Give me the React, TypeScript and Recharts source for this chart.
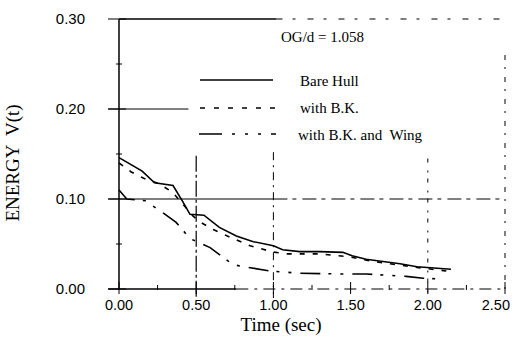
import React from "react";
import { LineChart, Line, XAxis, YAxis, ReferenceLine } from "recharts";

// Time axis ticks (major labelled, minor unlabelled)
const X_MAJOR = [0, 0.5, 1.0, 1.5, 2.0, 2.5];
const X_TICKS = [0, 0.25, 0.5, 0.75, 1.0, 1.25, 1.5, 1.75, 2.0, 2.25, 2.5];
const Y_MAJOR = [0, 0.1, 0.2, 0.3];
const Y_TICKS = [0, 0.05, 0.1, 0.15, 0.2, 0.25, 0.3];

// Bare hull energy decay
const BARE_T = [0, 0.15, 0.23, 0.35, 0.41, 0.46, 0.55, 0.65, 0.76, 0.87, 1.0, 1.06, 1.17, 1.3, 1.45, 1.51, 1.6, 1.82, 1.93, 2.15];
const BARE_V = [0.146, 0.131, 0.118, 0.115, 0.098, 0.083, 0.082, 0.0685, 0.059, 0.0526, 0.048, 0.0437, 0.0415, 0.0415, 0.0407, 0.037, 0.033, 0.028, 0.0248, 0.022];

// With bilge keels
const BK_T = [0, 0.08, 0.16, 0.26, 0.35, 0.42, 0.48, 0.53, 0.61, 0.74, 0.85, 1.0, 1.09, 1.3, 1.48, 1.67, 1.93, 2.12];
const BK_V = [0.14, 0.13, 0.123, 0.117, 0.107, 0.093, 0.081, 0.074, 0.066, 0.056, 0.048, 0.041, 0.039, 0.039, 0.036, 0.03, 0.024, 0.02];

// With bilge keels and wing
const WING_T = [0, 0.05, 0.17, 0.29, 0.37, 0.46, 0.59, 0.74, 0.8, 0.98, 1.17, 1.43, 1.6, 1.86, 1.97, 2.09];
const WING_V = [0.11, 0.1, 0.098, 0.084, 0.074, 0.056, 0.046, 0.027, 0.025, 0.02, 0.0175, 0.0167, 0.0167, 0.014, 0.012, 0.011];

const zip = (t: number[], v: number[]) => t.map((x, i) => ({ t: x, v: v[i] }));
const bare = zip(BARE_T, BARE_V);
const bk = zip(BK_T, BK_V);
const wing = zip(WING_T, WING_V);

const SANS = "'Liberation Sans', Arial, sans-serif";
const SERIF = "'Liberation Serif', 'Times New Roman', serif";

const W = 514;
const H = 344;
const M = { top: 19, right: 9, bottom: 0, left: 0 };
const Y_AXIS_W = 119;
const X_AXIS_H = 55;

const DASH_BK = "5 8";
const DASH_WING = "20 8 3 9 3 9";

const XTick = (props: any) => {
  const { x, y, payload } = props;
  const v = payload.value as number;
  const major = X_MAJOR.some((m) => Math.abs(m - v) < 1e-9);
  const last = Math.abs(v - 2.5) < 1e-9;
  const ay = y - 12;
  return (
    <g>
      <line x1={x} x2={x} y1={ay - (major ? 6 : 3)} y2={ay + (major ? 6 : 2)} stroke="#000" strokeWidth={1} />
      {major && (
        <text
          x={last ? x + 5 : x}
          y={y}
          dy="0.71em"
          textAnchor={last ? "end" : "middle"}
          fontSize={14.5}
          fontFamily={SANS}
          fill="#000"
        >
          {v.toFixed(2)}
        </text>
      )}
    </g>
  );
};

const YTick = (props: any) => {
  const { x, y, payload } = props;
  const v = payload.value as number;
  const major = Y_MAJOR.some((m) => Math.abs(m - v) < 1e-9);
  const ax = x + 34;
  return (
    <g>
      <line x1={ax - (major ? 11 : 3)} x2={ax + (major ? 7 : 3)} y1={y} y2={y} stroke="#000" strokeWidth={1} />
      {major && (
        <text x={x} y={y} dy="0.355em" textAnchor="end" fontSize={15} fontFamily={SANS} fill="#000">
          {v.toFixed(2)}
        </text>
      )}
    </g>
  );
};

const seg = (x1: number, y1: number, x2: number, y2: number) => [
  { x: x1, y: y1 },
  { x: x2, y: y2 },
];

export default function App() {
  return (
    <div style={{ position: "absolute", left: 0, top: 0, width: W, height: H, background: "#fff" }}>
      <LineChart width={W} height={H} margin={M}>
        <XAxis
          type="number"
          dataKey="t"
          domain={[0, 2.5]}
          ticks={X_TICKS}
          interval={0}
          height={X_AXIS_H}
          axisLine={false}
          tickLine={false}
          tickSize={0}
          tickMargin={11}
          tick={<XTick />}
          allowDuplicatedCategory={false}
        />
        <YAxis
          type="number"
          dataKey="v"
          domain={[0, 0.3]}
          ticks={Y_TICKS}
          interval={0}
          width={Y_AXIS_W}
          axisLine={{ stroke: "#000", strokeWidth: 1.5 }}
          tickLine={false}
          tickSize={0}
          tickMargin={34}
          tick={<YTick />}
        />

        {/* frame and grid */}
        <ReferenceLine ifOverflow="visible" segment={seg(0, 0.3, 1.02, 0.3)} stroke="#000" strokeWidth={1.3} />
        <ReferenceLine ifOverflow="visible" segment={seg(1.02, 0.3, 2.5, 0.3)} stroke="#000" strokeWidth={1.2} strokeDasharray="6 10 3 12" />
        <ReferenceLine ifOverflow="visible" segment={seg(-0.07, 0.2, 0.45, 0.2)} stroke="#000" strokeWidth={1} />
        <ReferenceLine ifOverflow="visible" segment={seg(-0.07, 0.1, 1.0, 0.1)} stroke="#000" strokeWidth={1.2} />
        <ReferenceLine ifOverflow="visible" segment={seg(1.0, 0.1, 2.5, 0.1)} stroke="#000" strokeWidth={1} strokeDasharray="14 5 4 6" />
        <ReferenceLine ifOverflow="visible" segment={seg(-0.07, 0, 0.76, 0)} stroke="#000" strokeWidth={1.4} />
        <ReferenceLine ifOverflow="visible" segment={seg(0.76, 0, 2.5, 0)} stroke="#000" strokeWidth={1.1} strokeDasharray="12 6 3 6" />
        <ReferenceLine ifOverflow="visible" segment={seg(0.5, 0.148, 0.5, -0.01)} stroke="#000" strokeWidth={1.2} strokeDasharray="16 3 3 3" />
        <ReferenceLine ifOverflow="visible" segment={seg(1.0, 0.152, 1.0, -0.01)} stroke="#000" strokeWidth={1} strokeDasharray="8 5 2 5" />
        <ReferenceLine ifOverflow="visible" segment={seg(2.0, 0.145, 2.0, -0.01)} stroke="#000" strokeWidth={1} strokeDasharray="4 8 2 6" />
        <ReferenceLine ifOverflow="visible" segment={seg(2.5, 0.26, 2.5, 0)} stroke="#000" strokeWidth={1} strokeDasharray="5 7 2 8" />

        <Line data={bare} dataKey="v" type="linear" stroke="#000" strokeWidth={1.6} dot={false} isAnimationActive={false} />
        <Line data={bk} dataKey="v" type="linear" stroke="#000" strokeWidth={1.6} strokeDasharray={DASH_BK} dot={false} isAnimationActive={false} />
        <Line data={wing} dataKey="v" type="linear" stroke="#000" strokeWidth={1.6} strokeDasharray={DASH_WING} dot={false} isAnimationActive={false} />
      </LineChart>

      <svg width={W} height={H} style={{ position: "absolute", left: 0, top: 0, pointerEvents: "none" }}>
        <text x={281} y={42} fontSize={15} fontFamily={SERIF} fill="#000">OG/d = 1.058</text>

        <line x1={200} x2={273} y1={80} y2={80} stroke="#000" strokeWidth={1.6} />
        <text x={300} y={86} fontSize={15} fontFamily={SERIF} fill="#000">Bare Hull</text>

        <line x1={200} x2={278} y1={108} y2={108} stroke="#000" strokeWidth={1.6} strokeDasharray="5 9" />
        <text x={300} y={113} fontSize={15} fontFamily={SERIF} fill="#000">with B.K.</text>

        <line x1={199} x2={276} y1={134} y2={134} stroke="#000" strokeWidth={1.6} strokeDasharray="23 10 3 10 3 10 3 10" />
        <text x={298} y={140} fontSize={15} fontFamily={SERIF} fill="#000" style={{ whiteSpace: "pre" }}>with B.K. and  Wing</text>

        <text x={281} y={331} textAnchor="middle" fontSize={19} fontFamily={SERIF} fill="#000">Time (sec)</text>
        <text x={19} y={163} textAnchor="middle" fontSize={19} fontFamily={SERIF} fill="#000" transform="rotate(-90, 19, 163)" style={{ whiteSpace: "pre" }}>
          ENERGY  V(t)
        </text>
      </svg>
    </div>
  );
}
